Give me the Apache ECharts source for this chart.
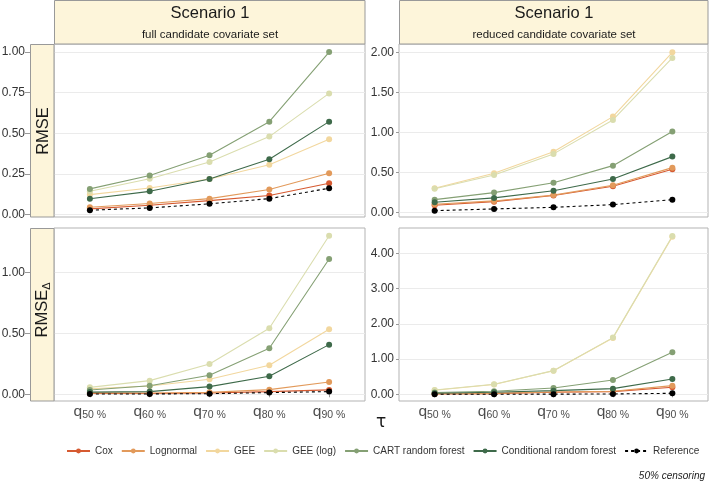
<!DOCTYPE html>
<html>
<head>
<meta charset="utf-8">
<script src="https://cdn.jsdelivr.net/npm/echarts@6/dist/echarts.min.js"></script>
<style>
  html, body { margin: 0; padding: 0; background: #fff; }
  #main { width: 709px; height: 482px; }
</style>
</head>
<body>
<div id="main"></div>
<script>
// quantile labels on the x axis
const tauLabels = ["50 %", "60 %", "70 %", "80 %", "90 %"];
const methods = ["Cox", "Lognormal", "GEE", "GEE (log)", "CART random forest", "Conditional random forest", "Reference"];
const colors = ["#D65A31", "#E29A5B", "#F2D79E", "#DADDAE", "#85A074", "#3E6A4A", "#000000"];

// one row per method, same order as `methods`
const rmseFull = [
  [0.035, 0.057, 0.086, 0.117, 0.193],
  [0.045, 0.068, 0.098, 0.154, 0.254],
  [0.123, 0.164, 0.219, 0.307, 0.463],
  [0.143, 0.221, 0.324, 0.480, 0.746],
  [0.158, 0.240, 0.365, 0.572, 1.000],
  [0.097, 0.143, 0.219, 0.340, 0.572],
  [0.027, 0.041, 0.066, 0.098, 0.162]
];
const rmseReduced = [
  [0.087, 0.133, 0.210, 0.325, 0.538],
  [0.100, 0.142, 0.215, 0.337, 0.558],
  [0.300, 0.488, 0.758, 1.196, 2.000],
  [0.295, 0.467, 0.730, 1.154, 1.930],
  [0.158, 0.246, 0.370, 0.583, 1.010],
  [0.125, 0.180, 0.270, 0.417, 0.696],
  [0.020, 0.042, 0.062, 0.096, 0.158]
];
const deltaFull = [
  [0.006, 0.007, 0.011, 0.022, 0.036],
  [0.012, 0.011, 0.016, 0.038, 0.101],
  [0.045, 0.068, 0.123, 0.238, 0.533],
  [0.057, 0.112, 0.249, 0.541, 1.300],
  [0.035, 0.070, 0.156, 0.377, 1.109],
  [0.018, 0.022, 0.063, 0.148, 0.407],
  [0.002, 0.003, 0.005, 0.014, 0.022]
];
const deltaReduced = [
  [0.010, 0.020, 0.057, 0.076, 0.200],
  [0.015, 0.025, 0.066, 0.085, 0.246],
  [0.115, 0.280, 0.668, 1.600, 4.470],
  [0.120, 0.284, 0.671, 1.608, 4.490],
  [0.050, 0.085, 0.180, 0.407, 1.190],
  [0.030, 0.057, 0.104, 0.161, 0.435],
  [0.002, 0.003, 0.004, 0.010, 0.028]
];

// y tick values per panel
const ticksTL = [0, 0.25, 0.5, 0.75, 1];
const ticksTR = [0, 0.5, 1, 1.5, 2];
const ticksBL = [0, 0.5, 1];
const ticksBR = [0, 1, 2, 3, 4];

const chart = echarts.init(document.getElementById("main"));

const panels = [
  { data: rmseFull, ticks: ticksTL, min: -0.015, max: 1.05, left: 54, top: 44 },
  { data: rmseReduced, ticks: ticksTR, min: -0.059, max: 2.104, left: 399, top: 44 },
  { data: deltaFull, ticks: ticksBL, min: -0.055, max: 1.363, left: 54, top: 228 },
  { data: deltaReduced, ticks: ticksBR, min: -0.19, max: 4.718, left: 399, top: 228 }
];

const grids = [], xAxes = [], yAxes = [], series = [];
panels.forEach((p, k) => {
  const bottomRow = k >= 2;
  const leftCol = k % 2 === 0;
  grids.push({
    left: p.left, top: p.top, width: leftCol ? 311 : 309, height: 173,
    outerBoundsMode: "none", containLabel: false,
    show: true, borderColor: "#b3b3b3", borderWidth: 1, backgroundColor: "#fff"
  });
  xAxes.push({
    type: "value", gridIndex: k, min: 0.4, max: 5.6,
    axisLine: { show: false },
    splitLine: { show: false },
    axisTick: { show: bottomRow, length: 3, lineStyle: { color: "#999" }, customValues: [1, 2, 3, 4, 5] },
    axisLabel: {
      show: bottomRow, margin: 3, customValues: [1, 2, 3, 4, 5],
      formatter: v => "{q|q}{s|" + tauLabels[Math.round(v) - 1] + "}",
      rich: {
        q: { fontSize: 15.5, color: "#4d4d4d", fontFamily: "Liberation Sans", verticalAlign: "top" },
        s: { fontSize: 10.5, color: "#4d4d4d", fontFamily: "Liberation Sans", verticalAlign: "bottom", padding: [6, 0, 0, 0] }
      }
    }
  });
  // left panels: labels sit outside the row strip
  yAxes.push({
    type: "value", gridIndex: k, min: p.min, max: p.max,
    axisLine: { show: false },
    axisTick: { show: true, length: leftCol ? 29 : 3, lineStyle: { color: "#999" }, customValues: p.ticks },
    splitLine: { show: true, lineStyle: { color: "#ebebeb", width: 1 } },
    axisLabel: {
      customValues: p.ticks, margin: leftCol ? 29 : 5, fontSize: 12, color: "#333",
      fontFamily: "Liberation Sans", formatter: v => v.toFixed(2)
    }
  });
  p.data.forEach((vals, m) => {
    const isRef = m === 6;
    series.push({
      name: methods[m], type: "line", xAxisIndex: k, yAxisIndex: k,
      data: vals.map((v, i) => [i + 1, v]),
      symbol: "circle", symbolSize: 6, showSymbol: true,
      color: colors[m],
      lineStyle: { color: colors[m], width: 1.1, type: isRef ? [3, 3] : "solid" },
      itemStyle: { color: colors[m] },
      emphasis: { disabled: true },
      animation: false
    });
  });
});

const stripFill = "#FDF5DA";
const stripStroke = "#999";
const graphic = [
  // top strips
  { type: "rect", shape: { x: 54.5, y: 0.5, width: 310.5, height: 43.5 }, style: { fill: stripFill, stroke: stripStroke, lineWidth: 1 }, z: 10 },
  { type: "rect", shape: { x: 399.5, y: 0.5, width: 308.5, height: 43.5 }, style: { fill: stripFill, stroke: stripStroke, lineWidth: 1 }, z: 10 },
  // left strips
  { type: "rect", shape: { x: 30.5, y: 44.5, width: 23.5, height: 172.5 }, style: { fill: stripFill, stroke: stripStroke, lineWidth: 1 }, z: 10 },
  { type: "rect", shape: { x: 30.5, y: 228.5, width: 23.5, height: 172.5 }, style: { fill: stripFill, stroke: stripStroke, lineWidth: 1 }, z: 10 },
  { type: "text", x: 210, y: 13, style: { text: "Scenario 1", fontSize: 16.5, fontFamily: "Liberation Sans", fill: "#1a1a1a", align: "center", verticalAlign: "middle" }, z: 11 },
  { type: "text", x: 210, y: 35, style: { text: "full candidate covariate set", fontSize: 11.5, fontFamily: "Liberation Sans", fill: "#1a1a1a", align: "center", verticalAlign: "middle" }, z: 11 },
  { type: "text", x: 554, y: 13, style: { text: "Scenario 1", fontSize: 16.5, fontFamily: "Liberation Sans", fill: "#1a1a1a", align: "center", verticalAlign: "middle" }, z: 11 },
  { type: "text", x: 554, y: 35, style: { text: "reduced candidate covariate set", fontSize: 11.5, fontFamily: "Liberation Sans", fill: "#1a1a1a", align: "center", verticalAlign: "middle" }, z: 11 },
  { type: "text", x: 43, y: 131, rotation: Math.PI / 2, style: { text: "RMSE", fontSize: 16.5, fontFamily: "Liberation Sans", fill: "#1a1a1a", align: "center", verticalAlign: "middle" }, z: 11 },
  {
    type: "text", x: 43, y: 310, rotation: Math.PI / 2,
    style: {
      text: "{a|RMSE}{b|Δ}", align: "center", verticalAlign: "middle",
      rich: {
        a: { fontSize: 16.5, fontFamily: "Liberation Sans", fill: "#1a1a1a", verticalAlign: "top" },
        b: { fontSize: 11, fontFamily: "Liberation Sans", fill: "#1a1a1a", verticalAlign: "bottom", padding: [8, 0, 0, 0] }
      }
    }, z: 11
  },
  { type: "text", x: 381, y: 423, style: { text: "τ", fontSize: 17, fontFamily: "DejaVu Sans", fill: "#1a1a1a", align: "center", verticalAlign: "middle" } },
  { type: "text", x: 705, y: 476, style: { text: "50% censoring", fontSize: 10, fontStyle: "italic", fontFamily: "Liberation Sans", fill: "#1a1a1a", align: "right", verticalAlign: "middle" } }
];

chart.setOption({
  animation: false,
  backgroundColor: "#fff",
  grid: grids,
  xAxis: xAxes,
  yAxis: yAxes,
  series: series,
  graphic: graphic,
  legend: {
    data: methods, left: 66, top: 446, width: 643, padding: 0,
    itemWidth: 23, itemHeight: 6, itemGap: 8,
    selectedMode: false,
    textStyle: { fontSize: 10, fontFamily: "Liberation Sans", color: "#333", padding: 0 }
  }
});
</script>
</body>
</html>
